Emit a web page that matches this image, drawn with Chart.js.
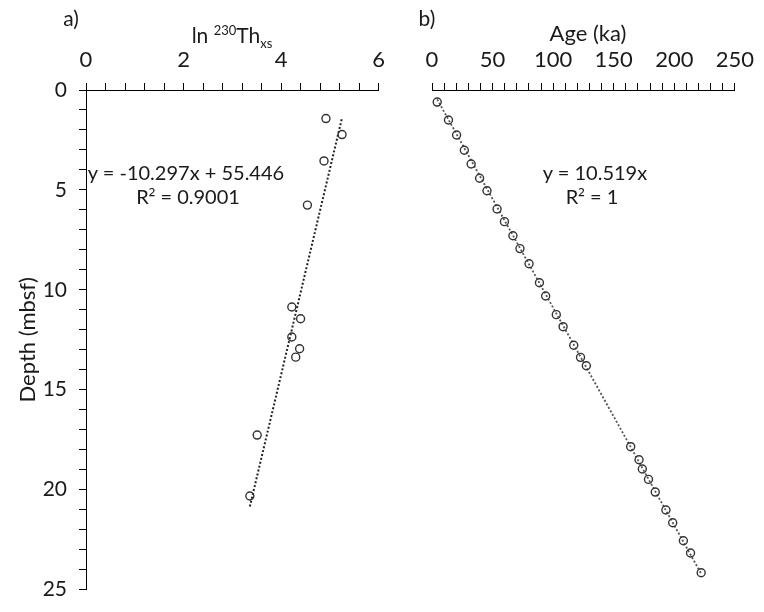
<!DOCTYPE html>
<html>
<head>
<meta charset="utf-8">
<script src="https://cdn.jsdelivr.net/npm/chart.js@4.4.0/dist/chart.umd.min.js"></script>
<style>
  body { margin: 0; background: #fff; }
  #wrap { position: relative; width: 764px; height: 612px; background: #fff; font-family: Lato, "Open Sans", sans-serif; color: #1a1a1a; }
  #chartA { position: absolute; left: 0; top: 0; }
  #chartB { position: absolute; left: 395px; top: 0; }
  .lbl { position: absolute; transform: translate(-50%, -50%); white-space: nowrap; font-size: 20px; line-height: 1; }
  .lbl sup, .lbl sub { font-size: 13px; line-height: 0; }
  .sq { font-family: "Open Sans", sans-serif; font-size: 19px; }
</style>
</head>
<body>
<div id="wrap">
  <canvas id="chartA" width="395" height="612"></canvas>
  <canvas id="chartB" width="369" height="612"></canvas>
  <div class="lbl" style="left:71px; top:17px; font-size:21px;">a)</div>
  <div class="lbl" style="left:427px; top:17px; font-size:21px;">b)</div>
  <div class="lbl" style="left:232px; top:34px; font-size:21px;">ln <sup>230</sup>Th<sub>xs</sub></div>
  <div class="lbl" style="left:588px; top:33px; font-size:22px;">Age (ka)</div>
  <div class="lbl" style="left:186px; top:172px;">y = -10.297x + 55.446</div>
  <div class="lbl" style="left:188px; top:196px;">R<span class="sq">²</span> = 0.9001</div>
  <div class="lbl" style="left:595px; top:172px;">y = 10.519x</div>
  <div class="lbl" style="left:592px; top:196px;">R<span class="sq">²</span> = 1</div>
</div>
<script>
// panel a) : ln 230Th_xs vs depth
const lnTh = [4.92, 5.25, 4.88, 4.54, 4.22, 4.40, 4.22, 4.38, 4.30, 3.51, 3.36];
const depthA = [1.43, 2.23, 3.55, 5.76, 10.86, 11.45, 12.36, 12.95, 13.37, 17.27, 20.32];
// trendline shown on the chart: y = -10.297x + 55.446
const slopeA = -10.297;
const interceptA = 55.446;

// panel b) : age vs depth
const age = [4.3, 13.6, 20.3, 26.7, 32.3, 39.3, 45.4, 53.7, 59.8, 66.8, 72.6, 80.1, 88.7, 93.8, 102.6,
  108.2, 117.0, 122.6, 127.4, 164.0, 170.9, 173.6, 178.7, 184.3, 193.1, 198.7, 207.5, 213.4, 222.2];
const depthB = [0.59, 1.47, 2.20, 2.95, 3.62, 4.32, 4.93, 5.82, 6.44, 7.13, 7.76, 8.50, 9.43, 10.08, 10.99,
  11.58, 12.49, 13.08, 13.49, 17.45, 18.09, 18.54, 19.05, 19.67, 20.55, 21.17, 22.05, 22.65, 23.62];

// tick settings
const depthMax = 25;
const depthLabelEvery = 5;
const lnThMax = 6;
const lnThLabelEvery = 2;
const ageMax = 250;
const ageLabelEvery = 50;

const ink = '#1a1a1a';

function onlyEvery(step) {
  return function(value) {
    const r = value / step;
    return Math.abs(r - Math.round(r)) < 1e-6 ? Math.round(value) : '';
  };
}

// points of panel a
const ptsA = lnTh.map((x, i) => ({ x: x, y: depthA[i] }));
const xMinA = Math.min(...lnTh), xMaxA = Math.max(...lnTh);
const trendA = [xMinA, xMaxA].map(x => ({ x: x, y: slopeA * x + interceptA }));

// points of panel b + line fitted through the origin
const ptsB = age.map((x, i) => ({ x: x, y: depthB[i] }));
let sxy = 0, sxx = 0;
age.forEach((a, i) => { sxy += a * depthB[i]; sxx += a * a; });
const kB = sxy / sxx;
const trendB = [Math.min(...age), Math.max(...age)].map(x => ({ x: x, y: kB * x }));

const pointStyle = {
  showLine: false,
  pointRadius: 4,
  pointHoverRadius: 4,
  pointBorderWidth: 1.4,
  pointBorderColor: '#333',
  pointBackgroundColor: 'rgba(0,0,0,0)'
};

function topAxis(max, step, every, height) {
  return {
    type: 'linear',
    position: 'top',
    min: 0,
    max: max,
    ticks: { stepSize: step, autoSkip: false, maxRotation: 0, padding: 10, color: ink,
      font: { family: 'Lato', size: 22, lineHeight: 1.2 }, callback: onlyEvery(every) },
    grid: { drawOnChartArea: false, drawTicks: true, tickLength: 7, color: '#000', lineWidth: 1 },
    border: { display: true, color: '#000', width: 1 },
    afterFit: function(scale) { scale.height = height; }
  };
}

// Chart a
new Chart(document.getElementById('chartA').getContext('2d'), {
  type: 'scatter',
  data: {
    datasets: [
      Object.assign({ label: 'ln Th', data: ptsA }, pointStyle),
      { label: 'trend', data: trendA, showLine: true, pointRadius: 0, borderColor: '#222', borderWidth: 2, borderDash: [2, 2] }
    ]
  },
  options: {
    responsive: false,
    animation: false,
    events: [],
    layout: { padding: { right: 16, bottom: 11 } },
    plugins: { legend: { display: false }, tooltip: { enabled: false } },
    scales: {
      x: topAxis(lnThMax, 0.4, lnThLabelEvery, 90),
      y: {
        type: 'linear',
        reverse: true,
        min: 0,
        max: depthMax,
        ticks: { stepSize: 1, autoSkip: false, padding: 12, color: ink,
          font: { family: 'Lato', size: 21, lineHeight: 1 }, callback: onlyEvery(depthLabelEvery) },
        grid: { drawOnChartArea: false, drawTicks: true, tickLength: 7, color: '#000', lineWidth: 1 },
        border: { display: true, color: '#000', width: 1 },
        title: { display: true, text: 'Depth (mbsf)', color: ink, font: { family: 'Lato', size: 22, lineHeight: 1.2 }, padding: { top: 15, bottom: 0 } },
        afterFit: function(scale) { scale.width = 86; }
      }
    }
  }
});

// Chart b
new Chart(document.getElementById('chartB').getContext('2d'), {
  type: 'scatter',
  data: {
    datasets: [
      Object.assign({ label: 'Age', data: ptsB }, pointStyle),
      { label: 'trend', data: trendB, showLine: true, pointRadius: 0, borderColor: '#555', borderWidth: 1.8, borderDash: [2, 2] }
    ]
  },
  options: {
    responsive: false,
    animation: false,
    events: [],
    layout: { padding: { left: 37, right: 20, bottom: 11 } },
    plugins: { legend: { display: false }, tooltip: { enabled: false } },
    scales: {
      x: topAxis(ageMax, 10, ageLabelEvery, 90),
      y: { type: 'linear', reverse: true, min: 0, max: depthMax, display: false }
    }
  }
});
</script>
</body>
</html>
